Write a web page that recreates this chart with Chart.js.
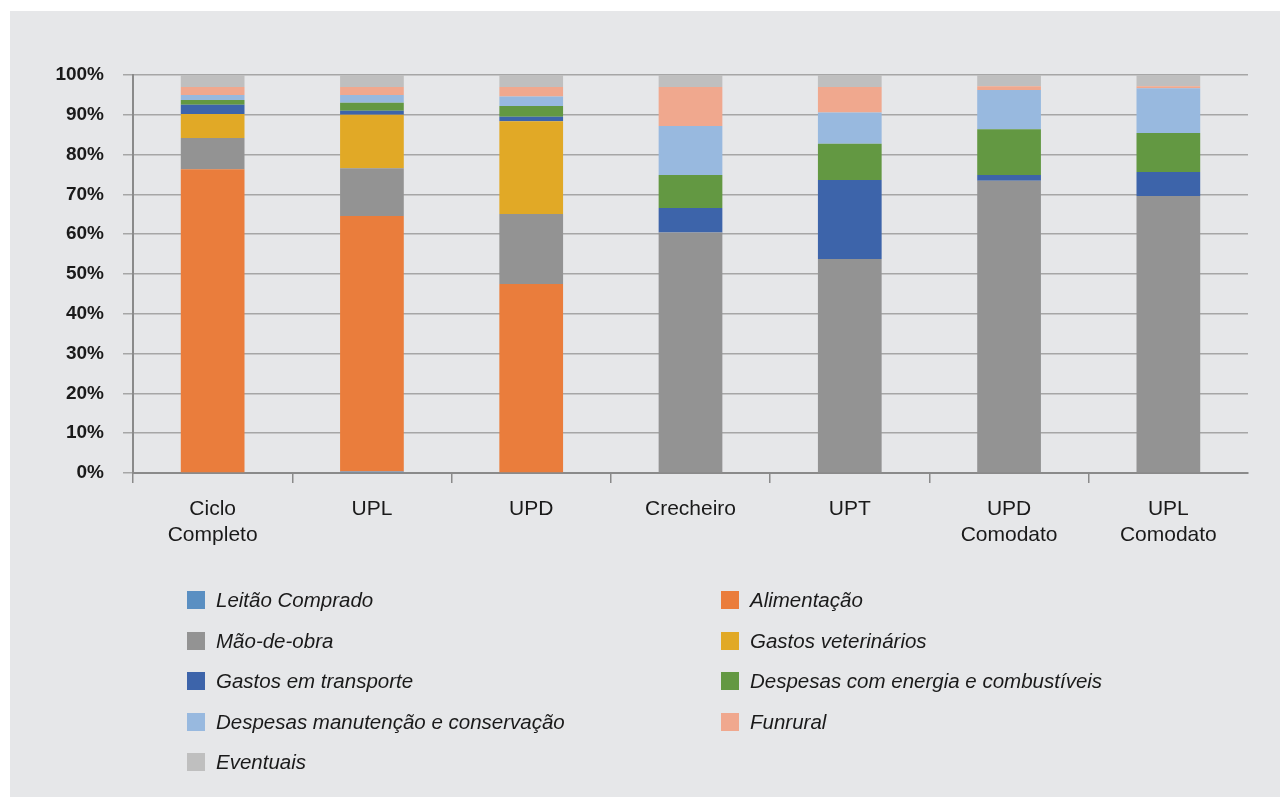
<!DOCTYPE html>
<html>
<head>
<meta charset="utf-8">
<script src="https://cdn.jsdelivr.net/npm/chart.js@4/dist/chart.umd.min.js"></script>
<style>
    html, body { margin: 0; padding: 0; background: #ffffff; }
    #panel {
        position: absolute;
        left: 10px;
        top: 11px;
        width: 1270px;
        height: 786px;
        background: #e6e7e9;
    }
    #chart { position: absolute; left: 0; top: 0; }
    #legend {
        position: absolute;
        left: 177px;
        top: 569px;
        display: grid;
        grid-template-columns: 534px 500px;
        grid-auto-rows: 40.5px;
        font-family: 'Liberation Sans Narrow', 'Arial Narrow', 'Liberation Sans', sans-serif;
        font-style: italic;
        font-size: 20.5px;
        color: #1a1a1a;
    }
    .item { display: flex; align-items: center; }
    .swatch { width: 18px; height: 18px; margin-right: 11px; flex: none; }
</style>
</head>
<body>
<div id="panel">
    <canvas id="chart" width="1270" height="786"></canvas>
    <div id="legend"></div>
</div>
<script>
const categories = [['Ciclo', 'Completo'], 'UPL', 'UPD', 'Crecheiro', 'UPT', ['UPD', 'Comodato'], ['UPL', 'Comodato']];
const yTicks = [0, 10, 20, 30, 40, 50, 60, 70, 80, 90, 100];

// shares in % per category (stacked, each bar sums to 100)
const leitaoComprado = [0, 0.4, 0, 0, 0, 0, 0];
const alimentacao = [76.3, 64.2, 47.5, 0, 0, 0, 0];
const maoDeObra = [7.9, 12.0, 17.6, 60.4, 53.8, 73.4, 69.6];
const gastosVeterinarios = [6.0, 13.4, 23.3, 0, 0, 0, 0];
const gastosTransporte = [2.3, 1.0, 1.1, 6.2, 19.8, 1.5, 6.0];
const despesasEnergia = [1.2, 2.0, 2.7, 8.3, 9.1, 11.5, 9.8];
const despesasManutencao = [1.3, 2.0, 2.4, 12.3, 7.9, 9.8, 11.3];
const funrural = [2.0, 2.0, 2.4, 9.8, 6.4, 1.0, 0.5];
const eventuais = [3.0, 3.0, 3.0, 3.0, 3.0, 2.8, 2.8];

const series = [
    { label: 'Leitão Comprado', data: leitaoComprado, color: '#5a8fc2' },
    { label: 'Alimentação', data: alimentacao, color: '#ea7d3c' },
    { label: 'Mão-de-obra', data: maoDeObra, color: '#939393' },
    { label: 'Gastos veterinários', data: gastosVeterinarios, color: '#e1a926' },
    { label: 'Gastos em transporte', data: gastosTransporte, color: '#3d64aa' },
    { label: 'Despesas com energia e combustíveis', data: despesasEnergia, color: '#639842' },
    { label: 'Despesas manutenção e conservação', data: despesasManutencao, color: '#98b9df' },
    { label: 'Funrural', data: funrural, color: '#f0a88e' },
    { label: 'Eventuais', data: eventuais, color: '#bfbfbf' },
];

const narrow = "'Liberation Sans Narrow', 'Arial Narrow', 'Liberation Sans', sans-serif";

const chart = new Chart(document.getElementById('chart'), {
    type: 'bar',
    data: {
        labels: categories,
        datasets: series.map((s) => ({
            label: s.label,
            data: s.data,
            backgroundColor: s.color,
            borderWidth: 0,
            categoryPercentage: 1,
            barPercentage: 0.4,
        })),
    },
    options: {
        responsive: false,
        animation: false,
        layout: { padding: { top: 64, left: 10, right: 32, bottom: 0 } },
        plugins: {
            legend: { display: false },
            tooltip: { enabled: false },
        },
        scales: {
            x: {
                stacked: true,
                afterFit: (scale) => { scale.height = 324; },
                border: { color: '#8a8a8a', width: 2 },
                grid: {
                    offset: true,
                    drawOnChartArea: false,
                    tickLength: 10,
                    // no tick mark at the far right end
                    color: (ctx) => (ctx.type === 'tick' ? '#8a8a8a' : 'rgba(0,0,0,0)'),
                    lineWidth: 1.5,
                },
                ticks: {
                    color: '#1a1a1a',
                    font: { family: narrow, size: 21 },
                    padding: 14,
                    maxRotation: 0,
                },
            },
            y: {
                stacked: true,
                min: 0,
                max: 100,
                afterFit: (scale) => { scale.width = 113; },
                afterBuildTicks: (scale) => { scale.ticks = yTicks.map((v) => ({ value: v })); },
                border: { color: '#8a8a8a', width: 2 },
                grid: {
                    color: '#a6a6a6',
                    lineWidth: 1.5,
                    tickLength: 10,
                },
                ticks: {
                    color: '#1a1a1a',
                    font: { family: narrow, size: 19, weight: 'bold' },
                    padding: 19,
                    callback: (v) => v + '%',
                },
            },
        },
    },
});

const legend = document.getElementById('legend');
chart.data.datasets.forEach((ds) => {
    const item = document.createElement('div');
    item.className = 'item';
    const sw = document.createElement('span');
    sw.className = 'swatch';
    sw.style.background = ds.backgroundColor;
    const txt = document.createElement('span');
    txt.textContent = ds.label;
    item.appendChild(sw);
    item.appendChild(txt);
    legend.appendChild(item);
});
</script>
</body>
</html>
